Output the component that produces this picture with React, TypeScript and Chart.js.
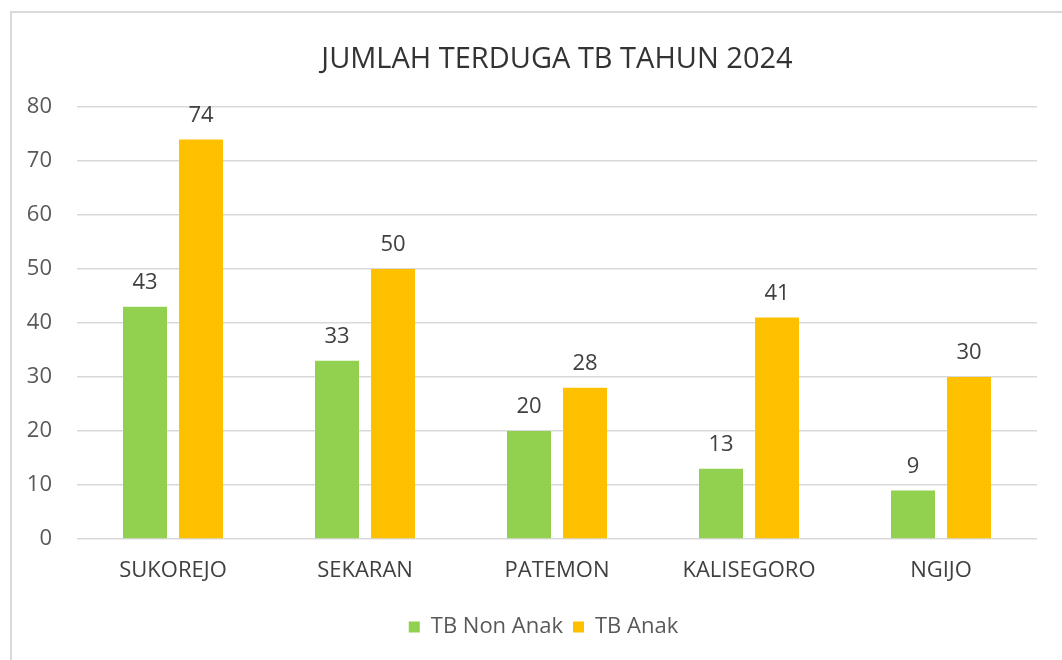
import React, { useEffect, useRef } from "react";
import { Chart, registerables } from "chart.js";

Chart.register(...registerables);

const TITLE = "JUMLAH TERDUGA TB TAHUN 2024";
const categories = ["SUKOREJO", "SEKARAN", "PATEMON", "KALISEGORO", "NGIJO"];
const seriesNames = ["TB Non Anak", "TB Anak"];
const tbNonAnak = [43, 33, 20, 13, 9];
const tbAnak = [74, 50, 28, 41, 30];
const seriesColors = ["#92D050", "#FFC000"];
const yMin = 0;
const yMax = 80;
const yStep = 10;

const FONT = "'Open Sans', 'Liberation Sans', sans-serif";

const dataLabelPlugin = {
  id: "dataLabels",
  afterDatasetsDraw(chart: any) {
    const ctx = chart.ctx;
    ctx.save();
    ctx.font = `22px ${FONT}`;
    ctx.fillStyle = "#404040";
    ctx.textAlign = "center";
    ctx.textBaseline = "middle";
    chart.data.datasets.forEach((ds: any, i: number) => {
      const meta = chart.getDatasetMeta(i);
      meta.data.forEach((bar: any, j: number) => {
        ctx.fillText(String(ds.data[j]), bar.x, bar.y - 24);
      });
    });
    ctx.restore();
  },
};

export default function App() {
  const ref = useRef<HTMLCanvasElement | null>(null);
  useEffect(() => {
    if (!ref.current) return;
    const chart = new Chart(ref.current, {
      type: "bar",
      data: {
        labels: categories,
        datasets: [
          {
            label: seriesNames[0],
            data: tbNonAnak,
            backgroundColor: seriesColors[0],
            categoryPercentage: 0.583,
            barPercentage: 0.786,
          },
          {
            label: seriesNames[1],
            data: tbAnak,
            backgroundColor: seriesColors[1],
            categoryPercentage: 0.583,
            barPercentage: 0.786,
          },
        ],
      },
      options: {
        responsive: false,
        animation: false,
        layout: { padding: { left: 25, right: 0, top: 0, bottom: 12 } },
        plugins: {
          title: {
            display: true,
            text: TITLE,
            fullSize: false,
            color: "#333333",
            font: { family: FONT, size: 29, weight: "normal" },
            padding: { top: 42, bottom: 30.2 },
          },
          legend: {
            display: true,
            position: "bottom",
            labels: {
              color: "#595959",
              font: { family: FONT, size: 22 },
              boxWidth: 11,
              boxHeight: 11,
              padding: 10,
            },
          },
          tooltip: { enabled: false },
        },
        scales: {
          x: {
            grid: { display: false, drawTicks: false },
            border: { display: false },
            ticks: {
              color: "#404040",
              font: { family: FONT, size: 22 },
              padding: 19,
            },
            afterFit(scale: any) {
              scale.height = 67;
            },
          },
          y: {
            min: yMin,
            max: yMax,
            grid: { color: "#d9d9d9", lineWidth: 1.5, drawTicks: false },
            border: { display: false },
            ticks: {
              stepSize: yStep,
              color: "#595959",
              font: { family: FONT, size: 22 },
              padding: 25,
            },
            afterFit(scale: any) {
              scale.width = 52;
            },
          },
          ySpacer: {
            type: "linear",
            position: "right",
            display: true,
            min: yMin,
            max: yMax,
            grid: { display: false, drawTicks: false },
            border: { display: false },
            ticks: { display: false },
            afterFit(scale: any) {
              scale.width = 25;
            },
          },
        },
      },
      plugins: [dataLabelPlugin],
    });
    return () => chart.destroy();
  }, []);

  return (
    <div
      style={{
        position: "fixed",
        left: 0,
        top: 0,
        width: 1062,
        height: 660,
        background: "#ffffff",
        overflow: "hidden",
      }}
    >
      <div
        style={{
          position: "absolute",
          left: 10,
          top: 11,
          width: 1100,
          height: 700,
          border: "2px solid #d9d9d9",
          boxSizing: "border-box",
        }}
      />
      <canvas
        ref={ref}
        width={1062}
        height={660}
        style={{ position: "absolute", left: 0, top: 0, width: 1062, height: 660 }}
      />
    </div>
  );
}
